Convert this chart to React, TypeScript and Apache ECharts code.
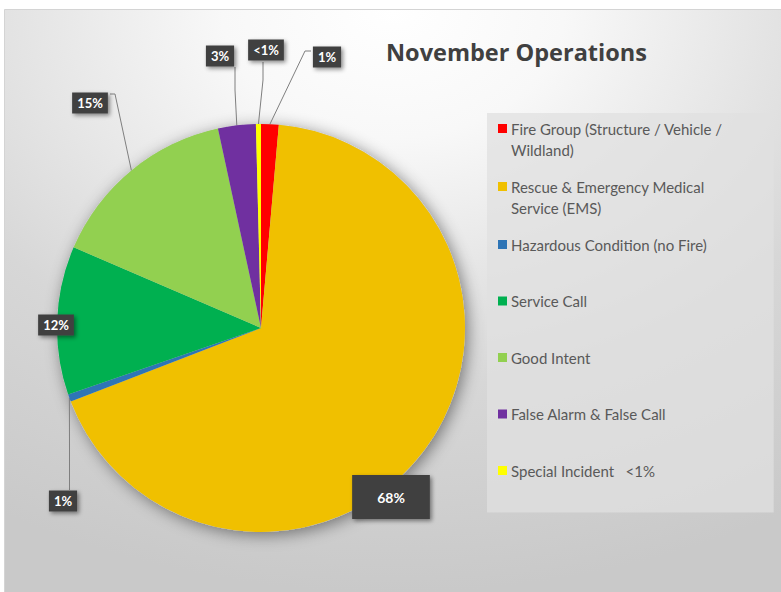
import React, { useEffect, useRef } from "react";
import * as echarts from "echarts";

const categories = [
  "Fire Group (Structure / Vehicle / Wildland)",
  "Rescue & Emergency Medical Service (EMS)",
  "Hazardous Condition (no Fire)",
  "Service Call",
  "Good Intent",
  "False Alarm & False Call",
  "Special Incident   <1%",
];
const values = [7, 340, 3, 59, 76, 15, 2];
const colors = ["#FF0000", "#F0C000", "#2E75B6", "#00B050", "#92D050", "#7030A0", "#FFFF00"];
const titleText = "November Operations";

// label placement (pixel centres) and leader-line bends
const labelPlaces = [
  { x: 327, y: 57, bend: [305, 51], end: [311, 51] },
  { x: 391, y: 497 },
  { x: 63, y: 501, bend: [69.5, 450], end: [69.5, 490] },
  { x: 56, y: 325 },
  { x: 90, y: 103, bend: [115, 94], end: [110, 94] },
  { x: 220, y: 56, bend: [235, 90], end: [235, 67] },
  { x: 266, y: 50, bend: [263, 80], end: [263, 62] },
];

const FONT = "Lato, 'Open Sans', sans-serif";

function wrap(s: string, max: number): string[] {
  const words = s.split(" ");
  const lines: string[] = [];
  let cur = "";
  for (const w of words) {
    const t = cur ? cur + " " + w : w;
    if (t.length > max && cur) {
      lines.push(cur);
      cur = w;
    } else cur = t;
  }
  if (cur) lines.push(cur);
  return lines;
}

export default function App() {
  const ref = useRef<HTMLDivElement>(null);
  useEffect(() => {
    if (!ref.current) return;
    const chart = echarts.init(ref.current, null, { renderer: "svg" });
    const total = values.reduce((a, b) => a + b, 0);
    const rich: any = {
      g: { width: 4, lineHeight: 21 },
      sp: { width: 13, lineHeight: 21 },
      t: { fontSize: 15, color: "#595959", fontFamily: FONT, lineHeight: 21 },
    };
    colors.forEach((c, i) => {
      rich["c" + i] = { width: 9, height: 9, backgroundColor: c, lineHeight: 21 };
    });
    const data = categories.map((n, i) => {
      const big = i === 1;
      const hasLine = !!labelPlaces[i].bend;
      return {
        name: n,
        value: values[i],
        itemStyle: { color: colors[i] },
        label: big ? { fontSize: 14, padding: [15, 25] } : {},
        labelLine: { show: hasLine },
      };
    });
    chart.setOption({
      animation: false,
      title: {
        text: titleText,
        left: 386,
        top: 40,
        padding: 0,
        textStyle: { fontSize: 23.5, fontWeight: "bold", color: "#404040", fontFamily: "'Open Sans', sans-serif" },
      },
      graphic: [
        {
          type: "rect",
          z: -10,
          silent: true,
          shape: { x: 4.5, y: 9.5, width: 777, height: 583 },
          style: {
            fill: new echarts.graphic.RadialGradient(0.5, 0, 1, [
              { offset: 0, color: "#ffffff" },
              { offset: 0.22, color: "#f8f8f8" },
              { offset: 0.65, color: "#d7d7d7" },
              { offset: 1, color: "#c9c9c9" },
            ]),
            stroke: "#d4d4d4",
            lineWidth: 1,
          },
        },
      ],
      legend: {
        orient: "vertical",
        left: 487,
        top: 113,
        padding: [8, 51, 15, 6],
        itemGap: 22,
        itemWidth: 0,
        itemHeight: 0,
        icon: "none",
        backgroundColor: "rgba(224,224,224,0.75)",
        selectedMode: false,
        data: categories,
        textStyle: { rich },
        formatter: (name: string) => {
          const i = categories.indexOf(name);
          const lines = wrap(name, 33);
          const first = `{c${i}|}{g|}{t|${lines[0]}}`;
          const second = lines[1] ? `{sp|}{t|${lines[1]}}` : `{sp|}`;
          return first + "\n" + second;
        },
      },
      series: [
        {
          type: "pie",
          silent: true,
          z: 1,
          center: [261, 328],
          radius: 204,
          label: { show: false },
          labelLine: { show: false },
          itemStyle: {
            color: "#c8c8c8",
            shadowBlur: 16,
            shadowColor: "rgba(0,0,0,0.45)",
            shadowOffsetX: 3,
            shadowOffsetY: 3,
          },
          data: [{ value: 1, name: "__shadow" }],
        },
        {
          type: "pie",
          z: 2,
          center: [261, 328],
          radius: 204,
          startAngle: 90,
          clockwise: true,
          avoidLabelOverlap: false,
          label: {
            show: true,
            position: "outside",
            color: "#ffffff",
            fontWeight: "bold",
            fontSize: 13,
            fontFamily: FONT,
            backgroundColor: "#404040",
            padding: [4, 5],
            shadowBlur: 4,
            shadowColor: "rgba(0,0,0,0.45)",
            shadowOffsetX: 2,
            shadowOffsetY: 2,
            formatter: (p: any) => {
              const pct = (p.value / total) * 100;
              return pct < 0.5 ? "<1%" : Math.round(pct) + "%";
            },
          },
          labelLine: { lineStyle: { color: "#7f7f7f", width: 1 }, length: 10, length2: 10 },
          labelLayout: (p: any) => {
            const a = labelPlaces[p.dataIndex];
            const res: any = { x: a.x, y: a.y, align: "center", verticalAlign: "middle" };
            if (a.bend && p.labelLinePoints && p.labelLinePoints[0]) {
              res.labelLinePoints = [p.labelLinePoints[0], a.bend, a.end];
            }
            return res;
          },
          data,
        },
      ],
    });
    return () => chart.dispose();
  }, []);
  return (
    <div
      ref={ref}
      style={{ position: "absolute", left: 0, top: 0, width: 781, height: 592 }}
    />
  );
}
